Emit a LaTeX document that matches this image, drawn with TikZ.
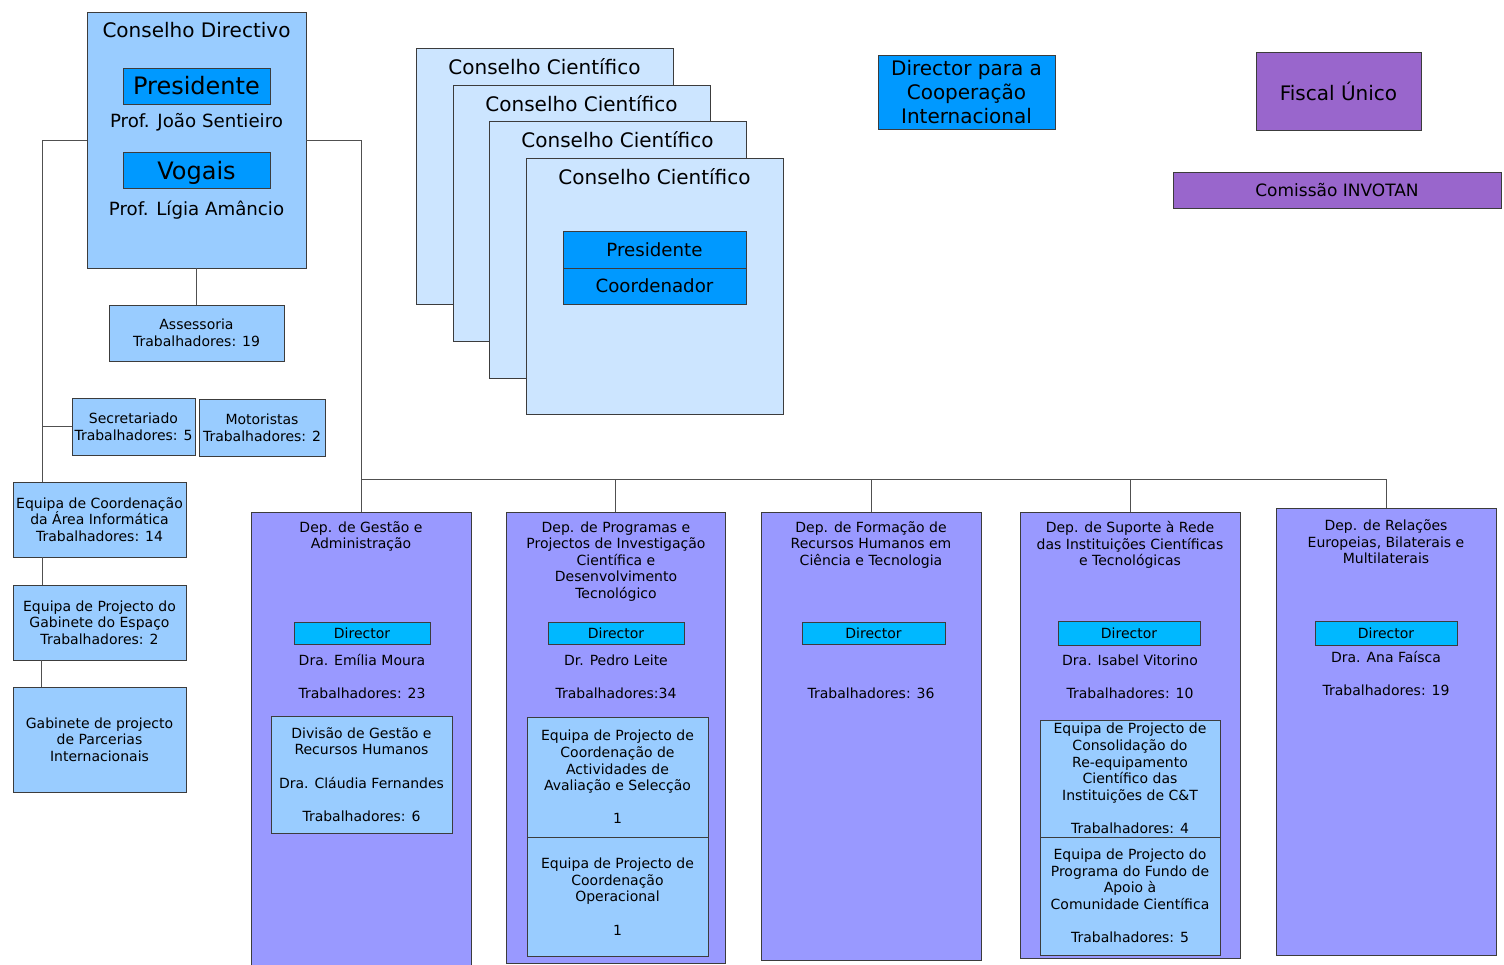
\documentclass[tikz,border=0pt]{standalone}
\usepackage{fontspec}
\setmainfont{DejaVu Sans}
\newcommand{\fz}[2]{\fontsize{#1pt}{#2pt}\selectfont}
\definecolor{lblue}{HTML}{99CCFF}
\definecolor{pblue}{HTML}{CCE5FF}
\definecolor{mblue}{HTML}{0099FF}
\definecolor{dblue}{HTML}{00B8FF}
\definecolor{deptc}{HTML}{9999FF}
\definecolor{purp}{HTML}{9966CC}
\definecolor{bordc}{HTML}{3C3C3C}
\definecolor{linec}{HTML}{505050}
\newcommand{\bx}[7][]{\node[box,fill=#2,anchor=north west,minimum width={#5-#3},minimum height={#6-#4},#1] (#7) at (#3,#4)}
\begin{document}
\begin{tikzpicture}[x=1pt,y=-1pt,
  box/.style={draw=bordc,line width=1pt,inner sep=0pt,outer sep=0pt,align=center},
  txt/.style={inner sep=0pt,outer sep=0pt,align=center,text=black},
  conn/.style={draw=linec,line width=1pt},
  dtxt/.style={txt,font={\fz{14}{16.6}}},
  stxt/.style={font={\fz{14}{16.6}}}]
\useasboundingbox (0,0) rectangle (1504,964);

% Conselho Directivo
\bx{lblue}{87}{12}{306}{268}{cd} {};
\node[txt,font={\fz{20}{24}}] (cdt) at (196.5,30) {Conselho Directivo};
\bx[font={\fz{24}{28}}]{mblue}{123}{68}{270}{104}{cdp} {Presidente};
\node[txt,font={\fz{18.2}{22}}] (cdpn) at (196.5,122) {Prof. João Sentieiro};
\bx[font={\fz{24}{28}},text depth=0pt]{mblue}{123}{152}{270}{188}{cdv} {Vogais};
\node[txt,font={\fz{18.2}{22}}] (cdvn) at (196.5,210) {Prof. Lígia Amâncio};

% left column boxes
\bx[stxt]{lblue}{109}{305}{284}{361}{ass} {Assessoria\\Trabalhadores: 19};
\bx[stxt]{lblue}{72}{398}{195}{455}{sec} {Secretariado\\Trabalhadores: 5};
\bx[stxt]{lblue}{199}{399}{325}{456}{mot} {Motoristas\\Trabalhadores: 2};
\bx[stxt]{lblue}{13}{482}{186}{557}{eqc} {Equipa de Coordenação\\da Área Informática\\Trabalhadores: 14};
\bx[stxt]{lblue}{13}{585}{186}{660}{egp} {Equipa de Projecto do\\Gabinete do Espaço\\Trabalhadores: 2};
\bx[stxt]{lblue}{13}{687}{186}{792}{gpp} {Gabinete de projecto\\de Parcerias\\Internacionais};

% Conselho Cientifico stack
\bx{pblue}{416}{48}{673}{304}{cc1} {};
\node[txt,font={\fz{20}{24}}] (cc1t) at (544.5,67) {Conselho Científico};
\bx{pblue}{453}{85}{710}{341}{cc2} {};
\node[txt,font={\fz{20}{24}}] (cc2t) at (581.5,104) {Conselho Científico};
\bx{pblue}{489}{121}{746}{378}{cc3} {};
\node[txt,font={\fz{20}{24}}] (cc3t) at (617.5,140) {Conselho Científico};
\bx{pblue}{526}{158}{783}{414}{cc4} {};
\node[txt,font={\fz{20}{24}}] (cc4t) at (654.5,177) {Conselho Científico};
\bx[font={\fz{18.2}{22}}]{mblue}{563}{231}{746}{268}{ccp} {Presidente};
\bx[font={\fz{18.2}{22}}]{mblue}{563}{268}{746}{304}{ccc} {Coordenador};

% top right
\bx[font={\fz{20}{24}}]{mblue}{878}{55}{1055}{129}{dci} {Director para a\\Cooperação\\Internacional};
\bx[font={\fz{20}{24}}]{purp}{1256}{52}{1421}{130}{fis} {Fiscal Único};
\bx[font={\fz{17}{20}}]{purp}{1173}{172}{1501}{208}{inv} {Comissão INVOTAN};

% Departments
\bx{deptc}{251}{512}{471}{968}{d1} {};
\node[dtxt] (d1t) at (361,536.5) {Dep. de Gestão e\\Administração};
\bx[dtxt]{dblue}{294}{622}{430}{644}{d1d} {Director};
\node[dtxt] (d1n) at (362,660) {Dra. Emília Moura};
\node[dtxt] (d1w) at (362,693) {Trabalhadores: 23};
\bx[dtxt]{lblue}{271}{716}{452}{833}{d1s} {Divisão de Gestão e\\Recursos Humanos\\[16.6pt]Dra. Cláudia Fernandes\\[16.6pt]Trabalhadores: 6};

\bx{deptc}{506}{512}{725}{963}{d2} {};
\node[dtxt] (d2t) at (616,561.5) {Dep. de Programas e\\Projectos de Investigação\\Científica e\\Desenvolvimento\\Tecnológico};
\bx[dtxt]{dblue}{548}{622}{684}{644}{d2d} {Director};
\node[dtxt] (d2n) at (616,660) {Dr. Pedro Leite};
\node[dtxt] (d2w) at (616,693) {Trabalhadores:34};
\bx[dtxt]{lblue}{527}{717}{708}{837}{d2s} {Equipa de Projecto de\\Coordenação de\\Actividades de\\Avaliação e Selecção\\[16.6pt]1};
\bx[dtxt]{lblue}{527}{837}{708}{956}{d2u} {Equipa de Projecto de\\Coordenação\\Operacional\\[16.6pt]1};

\bx{deptc}{761}{512}{981}{960}{d3} {};
\node[dtxt] (d3t) at (871,545) {Dep. de Formação de\\Recursos Humanos em\\Ciência e Tecnologia};
\bx[dtxt]{dblue}{802}{622}{945}{644}{d3d} {Director};
\node[dtxt] (d3w) at (871,693) {Trabalhadores: 36};

\bx{deptc}{1020}{512}{1240}{958}{d4} {};
\node[dtxt] (d4t) at (1130,545) {Dep. de Suporte à Rede\\das Instituições Científicas\\e Tecnológicas};
\bx[dtxt]{dblue}{1058}{621}{1200}{645}{d4d} {Director};
\node[dtxt] (d4n) at (1130,660) {Dra. Isabel Vitorino};
\node[dtxt] (d4w) at (1130,693) {Trabalhadores: 10};
\bx[dtxt]{lblue}{1040}{720}{1220}{837}{d4s} {Equipa de Projecto de\\Consolidação do\\Re-equipamento\\Científico das\\Instituições de C\&T\\[16.6pt]Trabalhadores: 4};
\bx[dtxt]{lblue}{1040}{837}{1220}{955}{d4u} {Equipa de Projecto do\\Programa do Fundo de\\Apoio à\\Comunidade Científica\\[16.6pt]Trabalhadores: 5};

\bx{deptc}{1276}{508}{1496}{955}{d5} {};
\node[dtxt] (d5t) at (1386,542) {Dep. de Relações\\Europeias, Bilaterais e\\Multilaterais};
\bx[dtxt]{dblue}{1315}{621}{1457}{645}{d5d} {Director};
\node[dtxt] (d5n) at (1386,657) {Dra. Ana Faísca};
\node[dtxt] (d5w) at (1386,690) {Trabalhadores: 19};

% connectors
\coordinate (lb) at (42,140);
\coordinate (rb) at (361,140);
\coordinate (bus) at (361,479);
\draw[conn] (cd.south) -- (ass.north);
\draw[conn] (cd.west) -- (lb) -- (lb |- eqc.north);
\draw[conn] (lb |- sec.west) -- (sec.west);
\draw[conn] (lb |- eqc.south) -- (lb |- egp.north);
\draw[conn] ([xshift=-1pt]lb |- egp.south) -- ([xshift=-1pt]lb |- gpp.north);
\draw[conn] (cd.east) -- (rb) -- (rb |- d1.north);
\draw[conn] (bus) -- (bus -| d5.north);
\draw[conn] (bus -| d2.north) -- (d2.north);
\draw[conn] (bus -| d3.north) -- (d3.north);
\draw[conn] (bus -| d4.north) -- (d4.north);
\draw[conn] (bus -| d5.north) -- (d5.north);
\end{tikzpicture}
\end{document}
